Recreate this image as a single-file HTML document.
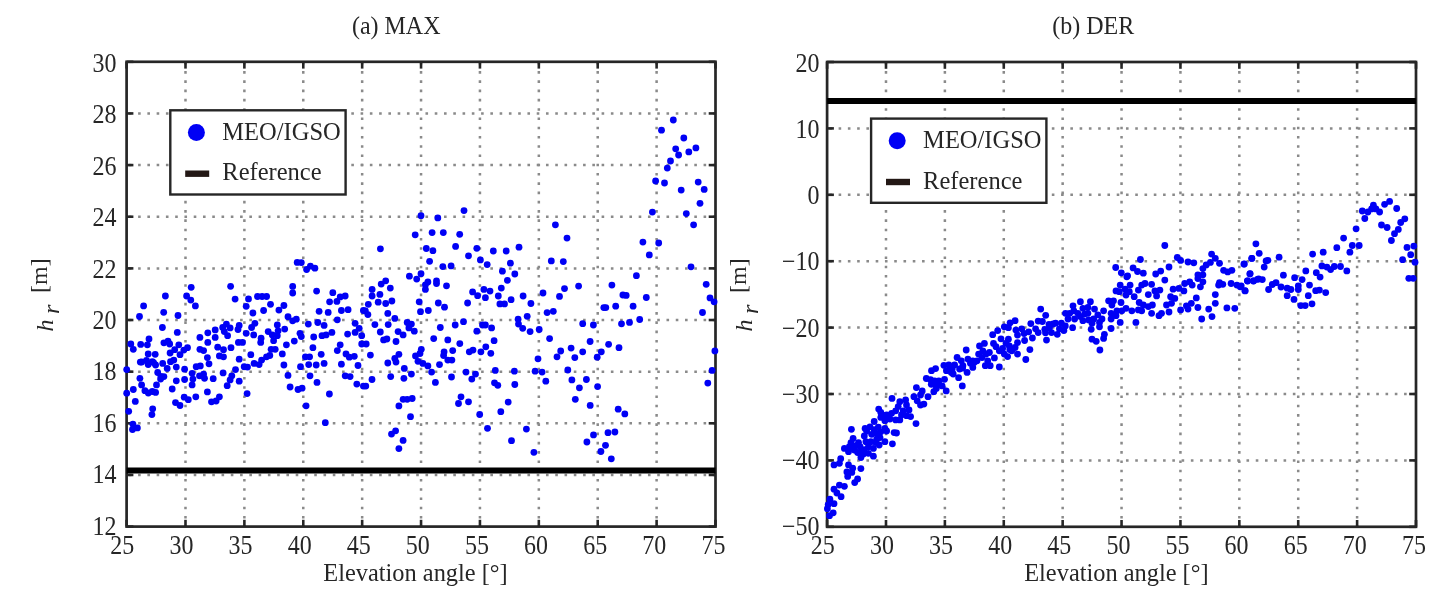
<!DOCTYPE html>
<html><head><meta charset="utf-8"><style>
html,body{margin:0;padding:0;background:#fff;width:1450px;height:605px;overflow:hidden}
svg{display:block;filter:blur(0.4px)}
text{font-family:"Liberation Serif",serif;font-size:24px;fill:#262626}
</style></head><body>
<svg width="1450" height="605" viewBox="0 0 1450 605">
<rect width="1450" height="605" fill="#fff"/>
<line x1="185.49" y1="61.80" x2="185.49" y2="526.60" stroke="#8a8a8a" stroke-width="2.5" stroke-dasharray="2.6 6.67" stroke-dashoffset="-9.25"/>
<line x1="244.38" y1="61.80" x2="244.38" y2="526.60" stroke="#8a8a8a" stroke-width="2.5" stroke-dasharray="2.6 6.67" stroke-dashoffset="-9.25"/>
<line x1="303.27" y1="61.80" x2="303.27" y2="526.60" stroke="#8a8a8a" stroke-width="2.5" stroke-dasharray="2.6 6.67" stroke-dashoffset="-9.25"/>
<line x1="362.16" y1="61.80" x2="362.16" y2="526.60" stroke="#8a8a8a" stroke-width="2.5" stroke-dasharray="2.6 6.67" stroke-dashoffset="-9.25"/>
<line x1="421.05" y1="61.80" x2="421.05" y2="526.60" stroke="#8a8a8a" stroke-width="2.5" stroke-dasharray="2.6 6.67" stroke-dashoffset="-9.25"/>
<line x1="479.94" y1="61.80" x2="479.94" y2="526.60" stroke="#8a8a8a" stroke-width="2.5" stroke-dasharray="2.6 6.67" stroke-dashoffset="-9.25"/>
<line x1="538.83" y1="61.80" x2="538.83" y2="526.60" stroke="#8a8a8a" stroke-width="2.5" stroke-dasharray="2.6 6.67" stroke-dashoffset="-9.25"/>
<line x1="597.72" y1="61.80" x2="597.72" y2="526.60" stroke="#8a8a8a" stroke-width="2.5" stroke-dasharray="2.6 6.67" stroke-dashoffset="-9.25"/>
<line x1="656.61" y1="61.80" x2="656.61" y2="526.60" stroke="#8a8a8a" stroke-width="2.5" stroke-dasharray="2.6 6.67" stroke-dashoffset="-9.25"/>
<line x1="126.60" y1="474.96" x2="715.50" y2="474.96" stroke="#8a8a8a" stroke-width="2.5" stroke-dasharray="2.6 6.67" stroke-dashoffset="-2.23"/>
<line x1="126.60" y1="423.31" x2="715.50" y2="423.31" stroke="#8a8a8a" stroke-width="2.5" stroke-dasharray="2.6 6.67" stroke-dashoffset="-2.23"/>
<line x1="126.60" y1="371.67" x2="715.50" y2="371.67" stroke="#8a8a8a" stroke-width="2.5" stroke-dasharray="2.6 6.67" stroke-dashoffset="-2.23"/>
<line x1="126.60" y1="320.02" x2="715.50" y2="320.02" stroke="#8a8a8a" stroke-width="2.5" stroke-dasharray="2.6 6.67" stroke-dashoffset="-2.23"/>
<line x1="126.60" y1="268.38" x2="715.50" y2="268.38" stroke="#8a8a8a" stroke-width="2.5" stroke-dasharray="2.6 6.67" stroke-dashoffset="-2.23"/>
<line x1="126.60" y1="216.73" x2="715.50" y2="216.73" stroke="#8a8a8a" stroke-width="2.5" stroke-dasharray="2.6 6.67" stroke-dashoffset="-2.23"/>
<line x1="126.60" y1="165.09" x2="715.50" y2="165.09" stroke="#8a8a8a" stroke-width="2.5" stroke-dasharray="2.6 6.67" stroke-dashoffset="-2.23"/>
<line x1="126.60" y1="113.44" x2="715.50" y2="113.44" stroke="#8a8a8a" stroke-width="2.5" stroke-dasharray="2.6 6.67" stroke-dashoffset="-2.23"/>
<line x1="126.60" y1="526.60" x2="126.60" y2="519.80" stroke="#262626" stroke-width="2.6"/>
<line x1="126.60" y1="61.80" x2="126.60" y2="68.60" stroke="#262626" stroke-width="2.6"/>
<text transform="translate(122.30,554.30) scale(1,1.1)" text-anchor="middle">25</text>
<line x1="185.49" y1="526.60" x2="185.49" y2="519.80" stroke="#262626" stroke-width="2.6"/>
<line x1="185.49" y1="61.80" x2="185.49" y2="68.60" stroke="#262626" stroke-width="2.6"/>
<text transform="translate(181.42,554.30) scale(1,1.1)" text-anchor="middle">30</text>
<line x1="244.38" y1="526.60" x2="244.38" y2="519.80" stroke="#262626" stroke-width="2.6"/>
<line x1="244.38" y1="61.80" x2="244.38" y2="68.60" stroke="#262626" stroke-width="2.6"/>
<text transform="translate(240.53,554.30) scale(1,1.1)" text-anchor="middle">35</text>
<line x1="303.27" y1="526.60" x2="303.27" y2="519.80" stroke="#262626" stroke-width="2.6"/>
<line x1="303.27" y1="61.80" x2="303.27" y2="68.60" stroke="#262626" stroke-width="2.6"/>
<text transform="translate(299.64,554.30) scale(1,1.1)" text-anchor="middle">40</text>
<line x1="362.16" y1="526.60" x2="362.16" y2="519.80" stroke="#262626" stroke-width="2.6"/>
<line x1="362.16" y1="61.80" x2="362.16" y2="68.60" stroke="#262626" stroke-width="2.6"/>
<text transform="translate(358.76,554.30) scale(1,1.1)" text-anchor="middle">45</text>
<line x1="421.05" y1="526.60" x2="421.05" y2="519.80" stroke="#262626" stroke-width="2.6"/>
<line x1="421.05" y1="61.80" x2="421.05" y2="68.60" stroke="#262626" stroke-width="2.6"/>
<text transform="translate(417.87,554.30) scale(1,1.1)" text-anchor="middle">50</text>
<line x1="479.94" y1="526.60" x2="479.94" y2="519.80" stroke="#262626" stroke-width="2.6"/>
<line x1="479.94" y1="61.80" x2="479.94" y2="68.60" stroke="#262626" stroke-width="2.6"/>
<text transform="translate(476.99,554.30) scale(1,1.1)" text-anchor="middle">55</text>
<line x1="538.83" y1="526.60" x2="538.83" y2="519.80" stroke="#262626" stroke-width="2.6"/>
<line x1="538.83" y1="61.80" x2="538.83" y2="68.60" stroke="#262626" stroke-width="2.6"/>
<text transform="translate(536.10,554.30) scale(1,1.1)" text-anchor="middle">60</text>
<line x1="597.72" y1="526.60" x2="597.72" y2="519.80" stroke="#262626" stroke-width="2.6"/>
<line x1="597.72" y1="61.80" x2="597.72" y2="68.60" stroke="#262626" stroke-width="2.6"/>
<text transform="translate(595.22,554.30) scale(1,1.1)" text-anchor="middle">65</text>
<line x1="656.61" y1="526.60" x2="656.61" y2="519.80" stroke="#262626" stroke-width="2.6"/>
<line x1="656.61" y1="61.80" x2="656.61" y2="68.60" stroke="#262626" stroke-width="2.6"/>
<text transform="translate(654.33,554.30) scale(1,1.1)" text-anchor="middle">70</text>
<line x1="715.50" y1="526.60" x2="715.50" y2="519.80" stroke="#262626" stroke-width="2.6"/>
<line x1="715.50" y1="61.80" x2="715.50" y2="68.60" stroke="#262626" stroke-width="2.6"/>
<text transform="translate(713.45,554.30) scale(1,1.1)" text-anchor="middle">75</text>
<line x1="126.60" y1="526.60" x2="133.40" y2="526.60" stroke="#262626" stroke-width="2.6"/>
<line x1="715.50" y1="526.60" x2="708.70" y2="526.60" stroke="#262626" stroke-width="2.6"/>
<text transform="translate(116.50,534.70) scale(1,1.1)" text-anchor="end">12</text>
<line x1="126.60" y1="474.96" x2="133.40" y2="474.96" stroke="#262626" stroke-width="2.6"/>
<line x1="715.50" y1="474.96" x2="708.70" y2="474.96" stroke="#262626" stroke-width="2.6"/>
<text transform="translate(116.50,483.28) scale(1,1.1)" text-anchor="end">14</text>
<line x1="126.60" y1="423.31" x2="133.40" y2="423.31" stroke="#262626" stroke-width="2.6"/>
<line x1="715.50" y1="423.31" x2="708.70" y2="423.31" stroke="#262626" stroke-width="2.6"/>
<text transform="translate(116.50,431.86) scale(1,1.1)" text-anchor="end">16</text>
<line x1="126.60" y1="371.67" x2="133.40" y2="371.67" stroke="#262626" stroke-width="2.6"/>
<line x1="715.50" y1="371.67" x2="708.70" y2="371.67" stroke="#262626" stroke-width="2.6"/>
<text transform="translate(116.50,380.43) scale(1,1.1)" text-anchor="end">18</text>
<line x1="126.60" y1="320.02" x2="133.40" y2="320.02" stroke="#262626" stroke-width="2.6"/>
<line x1="715.50" y1="320.02" x2="708.70" y2="320.02" stroke="#262626" stroke-width="2.6"/>
<text transform="translate(116.50,329.01) scale(1,1.1)" text-anchor="end">20</text>
<line x1="126.60" y1="268.38" x2="133.40" y2="268.38" stroke="#262626" stroke-width="2.6"/>
<line x1="715.50" y1="268.38" x2="708.70" y2="268.38" stroke="#262626" stroke-width="2.6"/>
<text transform="translate(116.50,277.59) scale(1,1.1)" text-anchor="end">22</text>
<line x1="126.60" y1="216.73" x2="133.40" y2="216.73" stroke="#262626" stroke-width="2.6"/>
<line x1="715.50" y1="216.73" x2="708.70" y2="216.73" stroke="#262626" stroke-width="2.6"/>
<text transform="translate(116.50,226.17) scale(1,1.1)" text-anchor="end">24</text>
<line x1="126.60" y1="165.09" x2="133.40" y2="165.09" stroke="#262626" stroke-width="2.6"/>
<line x1="715.50" y1="165.09" x2="708.70" y2="165.09" stroke="#262626" stroke-width="2.6"/>
<text transform="translate(116.50,174.74) scale(1,1.1)" text-anchor="end">26</text>
<line x1="126.60" y1="113.44" x2="133.40" y2="113.44" stroke="#262626" stroke-width="2.6"/>
<line x1="715.50" y1="113.44" x2="708.70" y2="113.44" stroke="#262626" stroke-width="2.6"/>
<text transform="translate(116.50,123.32) scale(1,1.1)" text-anchor="end">28</text>
<line x1="126.60" y1="61.80" x2="133.40" y2="61.80" stroke="#262626" stroke-width="2.6"/>
<line x1="715.50" y1="61.80" x2="708.70" y2="61.80" stroke="#262626" stroke-width="2.6"/>
<text transform="translate(116.50,71.90) scale(1,1.1)" text-anchor="end">30</text>
<rect x="126.60" y="61.80" width="588.90" height="464.80" fill="none" stroke="#262626" stroke-width="2.7"/>
<g fill="#0000f5">
<circle cx="673.3" cy="120.0" r="3.4"/>
<circle cx="661.5" cy="130.2" r="3.4"/>
<circle cx="683.8" cy="138.0" r="3.4"/>
<circle cx="675.7" cy="148.8" r="3.4"/>
<circle cx="678.6" cy="155.0" r="3.4"/>
<circle cx="688.8" cy="151.9" r="3.4"/>
<circle cx="695.9" cy="147.9" r="3.4"/>
<circle cx="670.5" cy="161.0" r="3.4"/>
<circle cx="667.3" cy="168.1" r="3.4"/>
<circle cx="655.6" cy="181.0" r="3.4"/>
<circle cx="664.5" cy="183.0" r="3.4"/>
<circle cx="698.2" cy="182.1" r="3.4"/>
<circle cx="681.2" cy="190.1" r="3.4"/>
<circle cx="704.2" cy="189.4" r="3.4"/>
<circle cx="297.2" cy="262.4" r="3.4"/>
<circle cx="301.3" cy="262.6" r="3.4"/>
<circle cx="306.6" cy="269.5" r="3.4"/>
<circle cx="310.4" cy="266.2" r="3.4"/>
<circle cx="314.9" cy="268.2" r="3.4"/>
<circle cx="191.2" cy="287.3" r="3.4"/>
<circle cx="230.6" cy="286.3" r="3.4"/>
<circle cx="292.7" cy="286.4" r="3.4"/>
<circle cx="292.7" cy="293.0" r="3.4"/>
<circle cx="316.6" cy="291.1" r="3.4"/>
<circle cx="165.4" cy="296.0" r="3.4"/>
<circle cx="186.6" cy="296.0" r="3.4"/>
<circle cx="332.8" cy="292.7" r="3.4"/>
<circle cx="340.2" cy="296.9" r="3.4"/>
<circle cx="345.2" cy="296.0" r="3.4"/>
<circle cx="257.5" cy="296.5" r="3.4"/>
<circle cx="262.1" cy="296.5" r="3.4"/>
<circle cx="266.6" cy="296.5" r="3.4"/>
<circle cx="464.0" cy="210.6" r="3.4"/>
<circle cx="421.0" cy="215.7" r="3.4"/>
<circle cx="437.8" cy="217.9" r="3.4"/>
<circle cx="555.4" cy="224.8" r="3.4"/>
<circle cx="415.2" cy="234.8" r="3.4"/>
<circle cx="432.1" cy="232.6" r="3.4"/>
<circle cx="443.3" cy="232.6" r="3.4"/>
<circle cx="459.7" cy="234.3" r="3.4"/>
<circle cx="567.0" cy="238.1" r="3.4"/>
<circle cx="380.4" cy="248.8" r="3.4"/>
<circle cx="426.3" cy="248.5" r="3.4"/>
<circle cx="432.9" cy="250.7" r="3.4"/>
<circle cx="455.6" cy="246.4" r="3.4"/>
<circle cx="476.8" cy="248.3" r="3.4"/>
<circle cx="493.3" cy="251.0" r="3.4"/>
<circle cx="506.2" cy="251.0" r="3.4"/>
<circle cx="519.0" cy="247.2" r="3.4"/>
<circle cx="468.5" cy="255.8" r="3.4"/>
<circle cx="429.6" cy="261.3" r="3.4"/>
<circle cx="480.4" cy="259.9" r="3.4"/>
<circle cx="487.2" cy="264.6" r="3.4"/>
<circle cx="510.4" cy="263.2" r="3.4"/>
<circle cx="551.3" cy="260.9" r="3.4"/>
<circle cx="563.3" cy="261.6" r="3.4"/>
<circle cx="442.8" cy="266.6" r="3.4"/>
<circle cx="451.1" cy="265.9" r="3.4"/>
<circle cx="502.4" cy="271.2" r="3.4"/>
<circle cx="514.8" cy="274.0" r="3.4"/>
<circle cx="409.4" cy="276.2" r="3.4"/>
<circle cx="421.0" cy="273.7" r="3.4"/>
<circle cx="416.7" cy="279.1" r="3.4"/>
<circle cx="385.7" cy="280.8" r="3.4"/>
<circle cx="381.2" cy="284.1" r="3.4"/>
<circle cx="390.3" cy="288.1" r="3.4"/>
<circle cx="372.1" cy="289.4" r="3.4"/>
<circle cx="427.9" cy="282.0" r="3.4"/>
<circle cx="436.5" cy="280.8" r="3.4"/>
<circle cx="436.5" cy="283.6" r="3.4"/>
<circle cx="425.4" cy="284.8" r="3.4"/>
<circle cx="425.4" cy="289.4" r="3.4"/>
<circle cx="446.5" cy="285.8" r="3.4"/>
<circle cx="507.4" cy="280.3" r="3.4"/>
<circle cx="501.3" cy="288.1" r="3.4"/>
<circle cx="483.9" cy="289.4" r="3.4"/>
<circle cx="490.0" cy="291.1" r="3.4"/>
<circle cx="472.6" cy="291.9" r="3.4"/>
<circle cx="477.6" cy="295.7" r="3.4"/>
<circle cx="564.5" cy="288.6" r="3.4"/>
<circle cx="578.6" cy="286.1" r="3.4"/>
<circle cx="543.0" cy="293.0" r="3.4"/>
<circle cx="559.5" cy="296.4" r="3.4"/>
<circle cx="498.3" cy="296.0" r="3.4"/>
<circle cx="523.1" cy="296.0" r="3.4"/>
<circle cx="379.9" cy="294.4" r="3.4"/>
<circle cx="372.1" cy="296.0" r="3.4"/>
<circle cx="485.4" cy="297.7" r="3.4"/>
<circle cx="700.0" cy="203.3" r="3.4"/>
<circle cx="652.4" cy="212.1" r="3.4"/>
<circle cx="686.3" cy="213.6" r="3.4"/>
<circle cx="693.6" cy="224.8" r="3.4"/>
<circle cx="642.9" cy="242.1" r="3.4"/>
<circle cx="658.7" cy="243.0" r="3.4"/>
<circle cx="649.3" cy="254.9" r="3.4"/>
<circle cx="691.0" cy="266.8" r="3.4"/>
<circle cx="636.4" cy="275.7" r="3.4"/>
<circle cx="611.9" cy="285.1" r="3.4"/>
<circle cx="706.2" cy="284.3" r="3.4"/>
<circle cx="622.9" cy="295.0" r="3.4"/>
<circle cx="626.2" cy="295.4" r="3.4"/>
<circle cx="646.3" cy="297.5" r="3.4"/>
<circle cx="710.0" cy="297.9" r="3.4"/>
<circle cx="190.8" cy="300.1" r="3.4"/>
<circle cx="195.4" cy="305.9" r="3.4"/>
<circle cx="235.1" cy="299.1" r="3.4"/>
<circle cx="143.6" cy="305.9" r="3.4"/>
<circle cx="139.5" cy="316.5" r="3.4"/>
<circle cx="163.7" cy="312.3" r="3.4"/>
<circle cx="178.0" cy="315.5" r="3.4"/>
<circle cx="162.4" cy="327.5" r="3.4"/>
<circle cx="177.3" cy="332.4" r="3.4"/>
<circle cx="149.0" cy="338.9" r="3.4"/>
<circle cx="199.9" cy="337.4" r="3.4"/>
<circle cx="207.8" cy="332.8" r="3.4"/>
<circle cx="215.2" cy="329.9" r="3.4"/>
<circle cx="215.2" cy="337.4" r="3.4"/>
<circle cx="222.7" cy="327.5" r="3.4"/>
<circle cx="226.4" cy="324.1" r="3.4"/>
<circle cx="230.1" cy="327.9" r="3.4"/>
<circle cx="224.3" cy="331.6" r="3.4"/>
<circle cx="227.6" cy="335.7" r="3.4"/>
<circle cx="239.2" cy="325.4" r="3.4"/>
<circle cx="238.0" cy="329.5" r="3.4"/>
<circle cx="207.8" cy="342.4" r="3.4"/>
<circle cx="130.8" cy="344.0" r="3.4"/>
<circle cx="140.7" cy="344.4" r="3.4"/>
<circle cx="147.4" cy="344.8" r="3.4"/>
<circle cx="163.9" cy="342.8" r="3.4"/>
<circle cx="168.0" cy="341.1" r="3.4"/>
<circle cx="169.7" cy="344.0" r="3.4"/>
<circle cx="178.8" cy="344.8" r="3.4"/>
<circle cx="238.4" cy="342.4" r="3.4"/>
<circle cx="242.5" cy="342.4" r="3.4"/>
<circle cx="248.5" cy="298.9" r="3.4"/>
<circle cx="246.2" cy="306.3" r="3.4"/>
<circle cx="329.6" cy="301.8" r="3.4"/>
<circle cx="336.9" cy="301.4" r="3.4"/>
<circle cx="270.5" cy="304.3" r="3.4"/>
<circle cx="263.6" cy="310.5" r="3.4"/>
<circle cx="252.9" cy="313.0" r="3.4"/>
<circle cx="278.9" cy="310.1" r="3.4"/>
<circle cx="283.9" cy="305.5" r="3.4"/>
<circle cx="288.0" cy="316.7" r="3.4"/>
<circle cx="292.6" cy="320.8" r="3.4"/>
<circle cx="296.3" cy="319.2" r="3.4"/>
<circle cx="308.3" cy="324.1" r="3.4"/>
<circle cx="319.1" cy="311.3" r="3.4"/>
<circle cx="328.2" cy="312.4" r="3.4"/>
<circle cx="341.4" cy="310.5" r="3.4"/>
<circle cx="348.1" cy="309.7" r="3.4"/>
<circle cx="337.3" cy="319.8" r="3.4"/>
<circle cx="317.8" cy="322.5" r="3.4"/>
<circle cx="324.1" cy="325.4" r="3.4"/>
<circle cx="363.4" cy="310.5" r="3.4"/>
<circle cx="254.9" cy="323.3" r="3.4"/>
<circle cx="251.6" cy="327.5" r="3.4"/>
<circle cx="246.2" cy="333.3" r="3.4"/>
<circle cx="253.7" cy="334.9" r="3.4"/>
<circle cx="261.1" cy="338.2" r="3.4"/>
<circle cx="260.7" cy="342.4" r="3.4"/>
<circle cx="268.2" cy="331.6" r="3.4"/>
<circle cx="272.3" cy="334.9" r="3.4"/>
<circle cx="277.3" cy="325.0" r="3.4"/>
<circle cx="278.1" cy="330.8" r="3.4"/>
<circle cx="284.7" cy="329.1" r="3.4"/>
<circle cx="273.6" cy="340.7" r="3.4"/>
<circle cx="277.3" cy="335.7" r="3.4"/>
<circle cx="300.0" cy="333.3" r="3.4"/>
<circle cx="301.3" cy="336.6" r="3.4"/>
<circle cx="294.3" cy="341.1" r="3.4"/>
<circle cx="313.7" cy="337.0" r="3.4"/>
<circle cx="322.0" cy="335.7" r="3.4"/>
<circle cx="326.1" cy="334.9" r="3.4"/>
<circle cx="331.9" cy="332.4" r="3.4"/>
<circle cx="347.6" cy="334.1" r="3.4"/>
<circle cx="355.1" cy="323.3" r="3.4"/>
<circle cx="355.1" cy="332.4" r="3.4"/>
<circle cx="359.2" cy="328.3" r="3.4"/>
<circle cx="361.7" cy="335.7" r="3.4"/>
<circle cx="286.4" cy="344.8" r="3.4"/>
<circle cx="340.2" cy="344.8" r="3.4"/>
<circle cx="361.7" cy="344.0" r="3.4"/>
<circle cx="133.3" cy="349.3" r="3.4"/>
<circle cx="170.1" cy="353.0" r="3.4"/>
<circle cx="180.0" cy="354.7" r="3.4"/>
<circle cx="174.7" cy="349.7" r="3.4"/>
<circle cx="183.8" cy="350.1" r="3.4"/>
<circle cx="187.5" cy="347.7" r="3.4"/>
<circle cx="199.9" cy="349.3" r="3.4"/>
<circle cx="203.6" cy="350.6" r="3.4"/>
<circle cx="217.7" cy="347.2" r="3.4"/>
<circle cx="223.5" cy="349.7" r="3.4"/>
<circle cx="219.4" cy="355.9" r="3.4"/>
<circle cx="223.5" cy="356.8" r="3.4"/>
<circle cx="231.0" cy="347.7" r="3.4"/>
<circle cx="239.2" cy="359.2" r="3.4"/>
<circle cx="148.2" cy="353.9" r="3.4"/>
<circle cx="155.2" cy="354.3" r="3.4"/>
<circle cx="140.3" cy="362.1" r="3.4"/>
<circle cx="146.5" cy="360.5" r="3.4"/>
<circle cx="152.3" cy="361.7" r="3.4"/>
<circle cx="155.6" cy="365.0" r="3.4"/>
<circle cx="148.2" cy="364.6" r="3.4"/>
<circle cx="162.7" cy="363.4" r="3.4"/>
<circle cx="167.2" cy="368.4" r="3.4"/>
<circle cx="170.5" cy="361.7" r="3.4"/>
<circle cx="173.8" cy="360.1" r="3.4"/>
<circle cx="176.3" cy="367.1" r="3.4"/>
<circle cx="184.6" cy="369.2" r="3.4"/>
<circle cx="196.2" cy="366.7" r="3.4"/>
<circle cx="200.3" cy="365.9" r="3.4"/>
<circle cx="207.4" cy="357.6" r="3.4"/>
<circle cx="209.0" cy="363.8" r="3.4"/>
<circle cx="192.1" cy="373.3" r="3.4"/>
<circle cx="192.9" cy="379.1" r="3.4"/>
<circle cx="199.5" cy="375.8" r="3.4"/>
<circle cx="203.6" cy="374.1" r="3.4"/>
<circle cx="204.5" cy="378.3" r="3.4"/>
<circle cx="192.1" cy="384.9" r="3.4"/>
<circle cx="184.6" cy="379.5" r="3.4"/>
<circle cx="176.3" cy="380.8" r="3.4"/>
<circle cx="172.2" cy="389.0" r="3.4"/>
<circle cx="213.2" cy="378.7" r="3.4"/>
<circle cx="223.1" cy="372.9" r="3.4"/>
<circle cx="235.5" cy="369.6" r="3.4"/>
<circle cx="231.8" cy="375.8" r="3.4"/>
<circle cx="230.1" cy="379.9" r="3.4"/>
<circle cx="239.2" cy="381.2" r="3.4"/>
<circle cx="227.2" cy="385.7" r="3.4"/>
<circle cx="126.7" cy="369.6" r="3.4"/>
<circle cx="157.7" cy="372.5" r="3.4"/>
<circle cx="163.9" cy="376.6" r="3.4"/>
<circle cx="160.6" cy="379.1" r="3.4"/>
<circle cx="139.9" cy="378.3" r="3.4"/>
<circle cx="141.6" cy="384.9" r="3.4"/>
<circle cx="156.5" cy="384.9" r="3.4"/>
<circle cx="144.9" cy="390.7" r="3.4"/>
<circle cx="152.3" cy="391.5" r="3.4"/>
<circle cx="133.3" cy="389.5" r="3.4"/>
<circle cx="126.7" cy="393.2" r="3.4"/>
<circle cx="207.4" cy="391.9" r="3.4"/>
<circle cx="244.2" cy="366.7" r="3.4"/>
<circle cx="271.1" cy="349.3" r="3.4"/>
<circle cx="275.2" cy="349.3" r="3.4"/>
<circle cx="312.9" cy="347.7" r="3.4"/>
<circle cx="337.3" cy="350.6" r="3.4"/>
<circle cx="250.8" cy="354.7" r="3.4"/>
<circle cx="282.3" cy="353.9" r="3.4"/>
<circle cx="305.4" cy="356.8" r="3.4"/>
<circle cx="309.6" cy="356.8" r="3.4"/>
<circle cx="321.2" cy="354.3" r="3.4"/>
<circle cx="346.0" cy="353.9" r="3.4"/>
<circle cx="349.3" cy="357.2" r="3.4"/>
<circle cx="354.3" cy="356.3" r="3.4"/>
<circle cx="247.5" cy="367.1" r="3.4"/>
<circle cx="254.1" cy="363.4" r="3.4"/>
<circle cx="259.1" cy="364.6" r="3.4"/>
<circle cx="261.6" cy="360.1" r="3.4"/>
<circle cx="266.5" cy="356.8" r="3.4"/>
<circle cx="269.8" cy="355.5" r="3.4"/>
<circle cx="283.9" cy="365.0" r="3.4"/>
<circle cx="300.5" cy="366.7" r="3.4"/>
<circle cx="308.7" cy="364.6" r="3.4"/>
<circle cx="316.2" cy="365.0" r="3.4"/>
<circle cx="324.1" cy="363.4" r="3.4"/>
<circle cx="341.4" cy="364.2" r="3.4"/>
<circle cx="358.0" cy="365.5" r="3.4"/>
<circle cx="288.0" cy="375.4" r="3.4"/>
<circle cx="310.0" cy="375.8" r="3.4"/>
<circle cx="317.0" cy="382.4" r="3.4"/>
<circle cx="345.2" cy="375.8" r="3.4"/>
<circle cx="350.1" cy="376.6" r="3.4"/>
<circle cx="356.8" cy="384.1" r="3.4"/>
<circle cx="363.4" cy="386.1" r="3.4"/>
<circle cx="290.1" cy="387.0" r="3.4"/>
<circle cx="298.0" cy="389.5" r="3.4"/>
<circle cx="302.1" cy="388.2" r="3.4"/>
<circle cx="329.4" cy="394.0" r="3.4"/>
<circle cx="247.1" cy="393.6" r="3.4"/>
<circle cx="135.3" cy="401.4" r="3.4"/>
<circle cx="128.7" cy="411.3" r="3.4"/>
<circle cx="152.7" cy="408.8" r="3.4"/>
<circle cx="151.9" cy="414.6" r="3.4"/>
<circle cx="175.5" cy="402.6" r="3.4"/>
<circle cx="180.0" cy="405.5" r="3.4"/>
<circle cx="184.2" cy="397.2" r="3.4"/>
<circle cx="188.3" cy="399.7" r="3.4"/>
<circle cx="195.8" cy="396.8" r="3.4"/>
<circle cx="211.5" cy="401.8" r="3.4"/>
<circle cx="216.1" cy="401.0" r="3.4"/>
<circle cx="219.4" cy="396.8" r="3.4"/>
<circle cx="132.9" cy="424.1" r="3.4"/>
<circle cx="137.4" cy="427.9" r="3.4"/>
<circle cx="132.5" cy="429.5" r="3.4"/>
<circle cx="306.1" cy="405.8" r="3.4"/>
<circle cx="325.3" cy="422.7" r="3.4"/>
<circle cx="368.3" cy="304.3" r="3.4"/>
<circle cx="378.2" cy="302.2" r="3.4"/>
<circle cx="385.7" cy="303.5" r="3.4"/>
<circle cx="391.9" cy="301.0" r="3.4"/>
<circle cx="367.9" cy="314.6" r="3.4"/>
<circle cx="365.4" cy="310.9" r="3.4"/>
<circle cx="387.8" cy="313.4" r="3.4"/>
<circle cx="394.8" cy="318.4" r="3.4"/>
<circle cx="374.9" cy="324.6" r="3.4"/>
<circle cx="388.2" cy="324.6" r="3.4"/>
<circle cx="380.3" cy="332.0" r="3.4"/>
<circle cx="383.6" cy="339.9" r="3.4"/>
<circle cx="386.9" cy="339.0" r="3.4"/>
<circle cx="396.0" cy="341.5" r="3.4"/>
<circle cx="398.1" cy="331.6" r="3.4"/>
<circle cx="403.1" cy="334.9" r="3.4"/>
<circle cx="407.2" cy="322.5" r="3.4"/>
<circle cx="411.4" cy="324.1" r="3.4"/>
<circle cx="408.9" cy="327.9" r="3.4"/>
<circle cx="414.3" cy="331.2" r="3.4"/>
<circle cx="419.2" cy="301.8" r="3.4"/>
<circle cx="420.5" cy="311.7" r="3.4"/>
<circle cx="428.3" cy="310.5" r="3.4"/>
<circle cx="438.3" cy="303.0" r="3.4"/>
<circle cx="444.5" cy="307.2" r="3.4"/>
<circle cx="440.3" cy="327.5" r="3.4"/>
<circle cx="433.7" cy="338.6" r="3.4"/>
<circle cx="447.8" cy="339.9" r="3.4"/>
<circle cx="455.2" cy="325.0" r="3.4"/>
<circle cx="463.5" cy="321.7" r="3.4"/>
<circle cx="467.6" cy="303.0" r="3.4"/>
<circle cx="476.8" cy="331.2" r="3.4"/>
<circle cx="459.8" cy="343.6" r="3.4"/>
<circle cx="482.5" cy="325.0" r="3.4"/>
<circle cx="366.2" cy="344.0" r="3.4"/>
<circle cx="499.9" cy="303.9" r="3.4"/>
<circle cx="504.5" cy="303.9" r="3.4"/>
<circle cx="511.1" cy="299.7" r="3.4"/>
<circle cx="530.9" cy="303.5" r="3.4"/>
<circle cx="527.2" cy="316.3" r="3.4"/>
<circle cx="547.1" cy="312.6" r="3.4"/>
<circle cx="553.3" cy="311.3" r="3.4"/>
<circle cx="518.1" cy="319.2" r="3.4"/>
<circle cx="518.5" cy="324.1" r="3.4"/>
<circle cx="522.7" cy="328.3" r="3.4"/>
<circle cx="530.1" cy="331.6" r="3.4"/>
<circle cx="539.2" cy="329.5" r="3.4"/>
<circle cx="491.6" cy="327.9" r="3.4"/>
<circle cx="485.4" cy="325.0" r="3.4"/>
<circle cx="494.1" cy="340.7" r="3.4"/>
<circle cx="549.6" cy="338.6" r="3.4"/>
<circle cx="582.7" cy="323.7" r="3.4"/>
<circle cx="593.4" cy="325.0" r="3.4"/>
<circle cx="590.1" cy="341.5" r="3.4"/>
<circle cx="603.8" cy="307.6" r="3.4"/>
<circle cx="370.4" cy="355.1" r="3.4"/>
<circle cx="387.8" cy="363.0" r="3.4"/>
<circle cx="396.0" cy="362.1" r="3.4"/>
<circle cx="394.8" cy="358.4" r="3.4"/>
<circle cx="398.9" cy="354.3" r="3.4"/>
<circle cx="404.3" cy="368.4" r="3.4"/>
<circle cx="411.4" cy="374.1" r="3.4"/>
<circle cx="390.7" cy="376.6" r="3.4"/>
<circle cx="403.9" cy="378.3" r="3.4"/>
<circle cx="372.0" cy="379.5" r="3.4"/>
<circle cx="365.8" cy="386.1" r="3.4"/>
<circle cx="421.3" cy="349.3" r="3.4"/>
<circle cx="420.0" cy="353.5" r="3.4"/>
<circle cx="415.5" cy="355.9" r="3.4"/>
<circle cx="418.0" cy="361.3" r="3.4"/>
<circle cx="422.9" cy="363.4" r="3.4"/>
<circle cx="427.9" cy="365.9" r="3.4"/>
<circle cx="431.6" cy="372.1" r="3.4"/>
<circle cx="435.4" cy="382.4" r="3.4"/>
<circle cx="439.5" cy="364.6" r="3.4"/>
<circle cx="444.1" cy="351.8" r="3.4"/>
<circle cx="443.6" cy="355.5" r="3.4"/>
<circle cx="447.8" cy="360.1" r="3.4"/>
<circle cx="451.9" cy="360.1" r="3.4"/>
<circle cx="452.7" cy="350.6" r="3.4"/>
<circle cx="469.3" cy="351.8" r="3.4"/>
<circle cx="473.0" cy="350.1" r="3.4"/>
<circle cx="480.9" cy="351.8" r="3.4"/>
<circle cx="466.0" cy="372.1" r="3.4"/>
<circle cx="475.5" cy="374.1" r="3.4"/>
<circle cx="471.8" cy="379.1" r="3.4"/>
<circle cx="451.5" cy="377.0" r="3.4"/>
<circle cx="485.8" cy="346.8" r="3.4"/>
<circle cx="490.8" cy="353.3" r="3.4"/>
<circle cx="538.0" cy="358.8" r="3.4"/>
<circle cx="557.0" cy="356.8" r="3.4"/>
<circle cx="560.7" cy="351.0" r="3.4"/>
<circle cx="571.1" cy="348.1" r="3.4"/>
<circle cx="574.8" cy="357.6" r="3.4"/>
<circle cx="582.7" cy="351.8" r="3.4"/>
<circle cx="597.2" cy="357.2" r="3.4"/>
<circle cx="601.3" cy="351.8" r="3.4"/>
<circle cx="495.3" cy="370.4" r="3.4"/>
<circle cx="514.4" cy="371.2" r="3.4"/>
<circle cx="535.1" cy="371.2" r="3.4"/>
<circle cx="542.1" cy="372.1" r="3.4"/>
<circle cx="567.8" cy="370.0" r="3.4"/>
<circle cx="545.8" cy="381.2" r="3.4"/>
<circle cx="494.5" cy="382.8" r="3.4"/>
<circle cx="497.8" cy="385.3" r="3.4"/>
<circle cx="514.8" cy="384.5" r="3.4"/>
<circle cx="571.9" cy="379.9" r="3.4"/>
<circle cx="586.4" cy="379.5" r="3.4"/>
<circle cx="579.4" cy="387.8" r="3.4"/>
<circle cx="597.6" cy="386.6" r="3.4"/>
<circle cx="403.1" cy="399.3" r="3.4"/>
<circle cx="407.2" cy="399.3" r="3.4"/>
<circle cx="412.2" cy="398.5" r="3.4"/>
<circle cx="398.9" cy="405.9" r="3.4"/>
<circle cx="410.5" cy="416.7" r="3.4"/>
<circle cx="461.0" cy="396.8" r="3.4"/>
<circle cx="458.5" cy="403.5" r="3.4"/>
<circle cx="468.5" cy="401.8" r="3.4"/>
<circle cx="479.7" cy="414.5" r="3.4"/>
<circle cx="500.8" cy="411.7" r="3.4"/>
<circle cx="508.2" cy="402.1" r="3.4"/>
<circle cx="575.3" cy="399.3" r="3.4"/>
<circle cx="590.2" cy="405.4" r="3.4"/>
<circle cx="487.5" cy="428.3" r="3.4"/>
<circle cx="526.4" cy="429.1" r="3.4"/>
<circle cx="511.5" cy="440.7" r="3.4"/>
<circle cx="533.9" cy="452.3" r="3.4"/>
<circle cx="391.5" cy="434.1" r="3.4"/>
<circle cx="395.6" cy="430.8" r="3.4"/>
<circle cx="403.1" cy="440.4" r="3.4"/>
<circle cx="398.9" cy="448.6" r="3.4"/>
<circle cx="593.5" cy="434.9" r="3.4"/>
<circle cx="586.9" cy="442.0" r="3.4"/>
<circle cx="600.9" cy="451.5" r="3.4"/>
<circle cx="714.1" cy="301.8" r="3.4"/>
<circle cx="605.8" cy="307.6" r="3.4"/>
<circle cx="615.7" cy="306.2" r="3.4"/>
<circle cx="633.1" cy="306.2" r="3.4"/>
<circle cx="621.5" cy="323.8" r="3.4"/>
<circle cx="629.5" cy="322.4" r="3.4"/>
<circle cx="639.7" cy="319.5" r="3.4"/>
<circle cx="702.5" cy="312.5" r="3.4"/>
<circle cx="608.6" cy="344.3" r="3.4"/>
<circle cx="619.0" cy="347.7" r="3.4"/>
<circle cx="714.9" cy="350.9" r="3.4"/>
<circle cx="712.1" cy="370.4" r="3.4"/>
<circle cx="707.8" cy="383.1" r="3.4"/>
<circle cx="618.2" cy="409.2" r="3.4"/>
<circle cx="624.8" cy="413.9" r="3.4"/>
<circle cx="608.0" cy="432.7" r="3.4"/>
<circle cx="614.9" cy="432.0" r="3.4"/>
<circle cx="605.5" cy="445.3" r="3.4"/>
<circle cx="611.3" cy="458.8" r="3.4"/>
<circle cx="148.3" cy="393.0" r="3.4"/>
<circle cx="155.6" cy="392.4" r="3.4"/>
<circle cx="160.9" cy="376.5" r="3.4"/>
<circle cx="141.7" cy="362.0" r="3.4"/>
<circle cx="153.6" cy="362.6" r="3.4"/>
</g>
<line x1="126.60" y1="470.57" x2="715.50" y2="470.57" stroke="#000" stroke-width="6"/>
<rect x="170.3" y="110.3" width="175.3" height="84.2" fill="#fff" stroke="#262626" stroke-width="2.4"/>
<circle cx="196.40" cy="132.50" r="8.5" fill="#0000f5"/>
<line x1="185.20" y1="173.70" x2="209.20" y2="173.70" stroke="#231815" stroke-width="6.4"/>
<text transform="translate(222.30,140.10)" style="font-size:24.5px">MEO/IGSO</text>
<text transform="translate(222.30,180.30)" style="font-size:24.5px">Reference</text>
<text transform="translate(396.20,33.50) scale(1,1.05)" text-anchor="middle">(a) MAX</text>
<text transform="translate(415.50,581.20) scale(1,1.03)" text-anchor="middle" style="font-size:24.4px">Elevation angle [°]</text>
<text transform="translate(52.60,331.60) rotate(-90)" font-style="italic">h</text>
<text transform="translate(58.70,314.00) rotate(-90)" font-style="italic">r</text>
<text transform="translate(46.50,293.00) rotate(-90)">[m]</text>
<line x1="885.99" y1="62.00" x2="885.99" y2="526.80" stroke="#8a8a8a" stroke-width="2.5" stroke-dasharray="2.6 6.67" stroke-dashoffset="-9.05"/>
<line x1="944.88" y1="62.00" x2="944.88" y2="526.80" stroke="#8a8a8a" stroke-width="2.5" stroke-dasharray="2.6 6.67" stroke-dashoffset="-9.05"/>
<line x1="1003.77" y1="62.00" x2="1003.77" y2="526.80" stroke="#8a8a8a" stroke-width="2.5" stroke-dasharray="2.6 6.67" stroke-dashoffset="-9.05"/>
<line x1="1062.66" y1="62.00" x2="1062.66" y2="526.80" stroke="#8a8a8a" stroke-width="2.5" stroke-dasharray="2.6 6.67" stroke-dashoffset="-9.05"/>
<line x1="1121.55" y1="62.00" x2="1121.55" y2="526.80" stroke="#8a8a8a" stroke-width="2.5" stroke-dasharray="2.6 6.67" stroke-dashoffset="-9.05"/>
<line x1="1180.44" y1="62.00" x2="1180.44" y2="526.80" stroke="#8a8a8a" stroke-width="2.5" stroke-dasharray="2.6 6.67" stroke-dashoffset="-9.05"/>
<line x1="1239.33" y1="62.00" x2="1239.33" y2="526.80" stroke="#8a8a8a" stroke-width="2.5" stroke-dasharray="2.6 6.67" stroke-dashoffset="-9.05"/>
<line x1="1298.22" y1="62.00" x2="1298.22" y2="526.80" stroke="#8a8a8a" stroke-width="2.5" stroke-dasharray="2.6 6.67" stroke-dashoffset="-9.05"/>
<line x1="1357.11" y1="62.00" x2="1357.11" y2="526.80" stroke="#8a8a8a" stroke-width="2.5" stroke-dasharray="2.6 6.67" stroke-dashoffset="-9.05"/>
<line x1="827.10" y1="460.40" x2="1416.00" y2="460.40" stroke="#8a8a8a" stroke-width="2.5" stroke-dasharray="2.6 6.67" stroke-dashoffset="-2.23"/>
<line x1="827.10" y1="394.00" x2="1416.00" y2="394.00" stroke="#8a8a8a" stroke-width="2.5" stroke-dasharray="2.6 6.67" stroke-dashoffset="-2.23"/>
<line x1="827.10" y1="327.60" x2="1416.00" y2="327.60" stroke="#8a8a8a" stroke-width="2.5" stroke-dasharray="2.6 6.67" stroke-dashoffset="-2.23"/>
<line x1="827.10" y1="261.20" x2="1416.00" y2="261.20" stroke="#8a8a8a" stroke-width="2.5" stroke-dasharray="2.6 6.67" stroke-dashoffset="-2.23"/>
<line x1="827.10" y1="194.80" x2="1416.00" y2="194.80" stroke="#8a8a8a" stroke-width="2.5" stroke-dasharray="2.6 6.67" stroke-dashoffset="-2.23"/>
<line x1="827.10" y1="128.40" x2="1416.00" y2="128.40" stroke="#8a8a8a" stroke-width="2.5" stroke-dasharray="2.6 6.67" stroke-dashoffset="-2.23"/>
<line x1="827.10" y1="526.80" x2="827.10" y2="520.00" stroke="#262626" stroke-width="2.6"/>
<line x1="827.10" y1="62.00" x2="827.10" y2="68.80" stroke="#262626" stroke-width="2.6"/>
<text transform="translate(822.80,554.30) scale(1,1.1)" text-anchor="middle">25</text>
<line x1="885.99" y1="526.80" x2="885.99" y2="520.00" stroke="#262626" stroke-width="2.6"/>
<line x1="885.99" y1="62.00" x2="885.99" y2="68.80" stroke="#262626" stroke-width="2.6"/>
<text transform="translate(881.91,554.30) scale(1,1.1)" text-anchor="middle">30</text>
<line x1="944.88" y1="526.80" x2="944.88" y2="520.00" stroke="#262626" stroke-width="2.6"/>
<line x1="944.88" y1="62.00" x2="944.88" y2="68.80" stroke="#262626" stroke-width="2.6"/>
<text transform="translate(941.03,554.30) scale(1,1.1)" text-anchor="middle">35</text>
<line x1="1003.77" y1="526.80" x2="1003.77" y2="520.00" stroke="#262626" stroke-width="2.6"/>
<line x1="1003.77" y1="62.00" x2="1003.77" y2="68.80" stroke="#262626" stroke-width="2.6"/>
<text transform="translate(1000.14,554.30) scale(1,1.1)" text-anchor="middle">40</text>
<line x1="1062.66" y1="526.80" x2="1062.66" y2="520.00" stroke="#262626" stroke-width="2.6"/>
<line x1="1062.66" y1="62.00" x2="1062.66" y2="68.80" stroke="#262626" stroke-width="2.6"/>
<text transform="translate(1059.26,554.30) scale(1,1.1)" text-anchor="middle">45</text>
<line x1="1121.55" y1="526.80" x2="1121.55" y2="520.00" stroke="#262626" stroke-width="2.6"/>
<line x1="1121.55" y1="62.00" x2="1121.55" y2="68.80" stroke="#262626" stroke-width="2.6"/>
<text transform="translate(1118.38,554.30) scale(1,1.1)" text-anchor="middle">50</text>
<line x1="1180.44" y1="526.80" x2="1180.44" y2="520.00" stroke="#262626" stroke-width="2.6"/>
<line x1="1180.44" y1="62.00" x2="1180.44" y2="68.80" stroke="#262626" stroke-width="2.6"/>
<text transform="translate(1177.49,554.30) scale(1,1.1)" text-anchor="middle">55</text>
<line x1="1239.33" y1="526.80" x2="1239.33" y2="520.00" stroke="#262626" stroke-width="2.6"/>
<line x1="1239.33" y1="62.00" x2="1239.33" y2="68.80" stroke="#262626" stroke-width="2.6"/>
<text transform="translate(1236.61,554.30) scale(1,1.1)" text-anchor="middle">60</text>
<line x1="1298.22" y1="526.80" x2="1298.22" y2="520.00" stroke="#262626" stroke-width="2.6"/>
<line x1="1298.22" y1="62.00" x2="1298.22" y2="68.80" stroke="#262626" stroke-width="2.6"/>
<text transform="translate(1295.72,554.30) scale(1,1.1)" text-anchor="middle">65</text>
<line x1="1357.11" y1="526.80" x2="1357.11" y2="520.00" stroke="#262626" stroke-width="2.6"/>
<line x1="1357.11" y1="62.00" x2="1357.11" y2="68.80" stroke="#262626" stroke-width="2.6"/>
<text transform="translate(1354.84,554.30) scale(1,1.1)" text-anchor="middle">70</text>
<line x1="1416.00" y1="526.80" x2="1416.00" y2="520.00" stroke="#262626" stroke-width="2.6"/>
<line x1="1416.00" y1="62.00" x2="1416.00" y2="68.80" stroke="#262626" stroke-width="2.6"/>
<text transform="translate(1413.95,554.30) scale(1,1.1)" text-anchor="middle">75</text>
<line x1="827.10" y1="526.80" x2="833.90" y2="526.80" stroke="#262626" stroke-width="2.6"/>
<line x1="1416.00" y1="526.80" x2="1409.20" y2="526.80" stroke="#262626" stroke-width="2.6"/>
<text transform="translate(819.50,534.90) scale(1,1.1)" text-anchor="end">&#8722;50</text>
<line x1="827.10" y1="460.40" x2="833.90" y2="460.40" stroke="#262626" stroke-width="2.6"/>
<line x1="1416.00" y1="460.40" x2="1409.20" y2="460.40" stroke="#262626" stroke-width="2.6"/>
<text transform="translate(819.50,468.79) scale(1,1.1)" text-anchor="end">&#8722;40</text>
<line x1="827.10" y1="394.00" x2="833.90" y2="394.00" stroke="#262626" stroke-width="2.6"/>
<line x1="1416.00" y1="394.00" x2="1409.20" y2="394.00" stroke="#262626" stroke-width="2.6"/>
<text transform="translate(819.50,402.67) scale(1,1.1)" text-anchor="end">&#8722;30</text>
<line x1="827.10" y1="327.60" x2="833.90" y2="327.60" stroke="#262626" stroke-width="2.6"/>
<line x1="1416.00" y1="327.60" x2="1409.20" y2="327.60" stroke="#262626" stroke-width="2.6"/>
<text transform="translate(819.50,336.56) scale(1,1.1)" text-anchor="end">&#8722;20</text>
<line x1="827.10" y1="261.20" x2="833.90" y2="261.20" stroke="#262626" stroke-width="2.6"/>
<line x1="1416.00" y1="261.20" x2="1409.20" y2="261.20" stroke="#262626" stroke-width="2.6"/>
<text transform="translate(819.50,270.44) scale(1,1.1)" text-anchor="end">&#8722;10</text>
<line x1="827.10" y1="194.80" x2="833.90" y2="194.80" stroke="#262626" stroke-width="2.6"/>
<line x1="1416.00" y1="194.80" x2="1409.20" y2="194.80" stroke="#262626" stroke-width="2.6"/>
<text transform="translate(819.50,204.33) scale(1,1.1)" text-anchor="end">0</text>
<line x1="827.10" y1="128.40" x2="833.90" y2="128.40" stroke="#262626" stroke-width="2.6"/>
<line x1="1416.00" y1="128.40" x2="1409.20" y2="128.40" stroke="#262626" stroke-width="2.6"/>
<text transform="translate(819.50,138.21) scale(1,1.1)" text-anchor="end">10</text>
<line x1="827.10" y1="62.00" x2="833.90" y2="62.00" stroke="#262626" stroke-width="2.6"/>
<line x1="1416.00" y1="62.00" x2="1409.20" y2="62.00" stroke="#262626" stroke-width="2.6"/>
<text transform="translate(819.50,72.10) scale(1,1.1)" text-anchor="end">20</text>
<rect x="827.10" y="62.00" width="588.90" height="464.80" fill="none" stroke="#262626" stroke-width="2.7"/>
<g fill="#0000f5">
<circle cx="847.7" cy="476.4" r="3.4"/>
<circle cx="857.6" cy="478.9" r="3.4"/>
<circle cx="854.7" cy="482.6" r="3.4"/>
<circle cx="834.0" cy="489.2" r="3.4"/>
<circle cx="839.4" cy="485.1" r="3.4"/>
<circle cx="844.4" cy="486.3" r="3.4"/>
<circle cx="836.9" cy="493.0" r="3.4"/>
<circle cx="841.1" cy="496.7" r="3.4"/>
<circle cx="829.9" cy="499.2" r="3.4"/>
<circle cx="834.0" cy="503.7" r="3.4"/>
<circle cx="828.2" cy="504.6" r="3.4"/>
<circle cx="827.4" cy="508.7" r="3.4"/>
<circle cx="833.2" cy="512.8" r="3.4"/>
<circle cx="829.5" cy="515.7" r="3.4"/>
<circle cx="851.4" cy="429.3" r="3.4"/>
<circle cx="853.1" cy="438.4" r="3.4"/>
<circle cx="865.1" cy="428.5" r="3.4"/>
<circle cx="870.0" cy="426.8" r="3.4"/>
<circle cx="878.3" cy="427.2" r="3.4"/>
<circle cx="884.9" cy="428.5" r="3.4"/>
<circle cx="886.6" cy="431.0" r="3.4"/>
<circle cx="894.1" cy="432.6" r="3.4"/>
<circle cx="896.5" cy="433.0" r="3.4"/>
<circle cx="864.3" cy="435.9" r="3.4"/>
<circle cx="871.7" cy="434.3" r="3.4"/>
<circle cx="876.7" cy="433.5" r="3.4"/>
<circle cx="880.0" cy="437.6" r="3.4"/>
<circle cx="870.9" cy="441.7" r="3.4"/>
<circle cx="875.8" cy="442.6" r="3.4"/>
<circle cx="884.9" cy="441.7" r="3.4"/>
<circle cx="892.4" cy="443.8" r="3.4"/>
<circle cx="873.4" cy="448.4" r="3.4"/>
<circle cx="844.4" cy="448.4" r="3.4"/>
<circle cx="849.4" cy="446.7" r="3.4"/>
<circle cx="855.1" cy="445.9" r="3.4"/>
<circle cx="860.1" cy="446.7" r="3.4"/>
<circle cx="854.3" cy="450.0" r="3.4"/>
<circle cx="861.8" cy="450.8" r="3.4"/>
<circle cx="863.4" cy="454.1" r="3.4"/>
<circle cx="868.4" cy="453.3" r="3.4"/>
<circle cx="860.9" cy="457.5" r="3.4"/>
<circle cx="873.4" cy="456.2" r="3.4"/>
<circle cx="840.7" cy="458.7" r="3.4"/>
<circle cx="839.4" cy="463.3" r="3.4"/>
<circle cx="834.0" cy="464.9" r="3.4"/>
<circle cx="848.5" cy="464.9" r="3.4"/>
<circle cx="852.7" cy="468.2" r="3.4"/>
<circle cx="860.9" cy="468.6" r="3.4"/>
<circle cx="846.9" cy="471.9" r="3.4"/>
<circle cx="851.8" cy="472.4" r="3.4"/>
<circle cx="878.7" cy="409.1" r="3.4"/>
<circle cx="880.8" cy="417.4" r="3.4"/>
<circle cx="886.6" cy="414.9" r="3.4"/>
<circle cx="891.6" cy="413.3" r="3.4"/>
<circle cx="884.9" cy="420.7" r="3.4"/>
<circle cx="889.9" cy="419.0" r="3.4"/>
<circle cx="895.7" cy="419.9" r="3.4"/>
<circle cx="874.2" cy="421.5" r="3.4"/>
<circle cx="892.0" cy="398.4" r="3.4"/>
<circle cx="899.8" cy="401.7" r="3.4"/>
<circle cx="898.2" cy="406.6" r="3.4"/>
<circle cx="903.2" cy="410.8" r="3.4"/>
<circle cx="906.5" cy="405.0" r="3.4"/>
<circle cx="909.0" cy="409.9" r="3.4"/>
<circle cx="910.6" cy="416.6" r="3.4"/>
<circle cx="901.5" cy="414.9" r="3.4"/>
<circle cx="913.9" cy="396.7" r="3.4"/>
<circle cx="917.2" cy="400.8" r="3.4"/>
<circle cx="920.5" cy="405.0" r="3.4"/>
<circle cx="923.9" cy="404.1" r="3.4"/>
<circle cx="916.4" cy="387.6" r="3.4"/>
<circle cx="922.2" cy="390.9" r="3.4"/>
<circle cx="928.0" cy="396.7" r="3.4"/>
<circle cx="926.3" cy="378.5" r="3.4"/>
<circle cx="931.3" cy="384.3" r="3.4"/>
<circle cx="936.3" cy="388.4" r="3.4"/>
<circle cx="938.8" cy="381.0" r="3.4"/>
<circle cx="944.5" cy="379.3" r="3.4"/>
<circle cx="946.2" cy="390.9" r="3.4"/>
<circle cx="916.0" cy="423.6" r="3.4"/>
<circle cx="933.8" cy="391.7" r="3.4"/>
<circle cx="958.6" cy="377.7" r="3.4"/>
<circle cx="962.3" cy="385.9" r="3.4"/>
<circle cx="931.5" cy="370.7" r="3.4"/>
<circle cx="935.6" cy="368.6" r="3.4"/>
<circle cx="943.9" cy="365.3" r="3.4"/>
<circle cx="946.4" cy="370.7" r="3.4"/>
<circle cx="951.3" cy="372.4" r="3.4"/>
<circle cx="957.1" cy="357.5" r="3.4"/>
<circle cx="954.6" cy="364.9" r="3.4"/>
<circle cx="961.3" cy="360.8" r="3.4"/>
<circle cx="959.6" cy="369.0" r="3.4"/>
<circle cx="966.2" cy="350.0" r="3.4"/>
<circle cx="967.9" cy="359.1" r="3.4"/>
<circle cx="970.4" cy="363.3" r="3.4"/>
<circle cx="967.1" cy="372.4" r="3.4"/>
<circle cx="972.8" cy="367.4" r="3.4"/>
<circle cx="977.0" cy="360.8" r="3.4"/>
<circle cx="978.6" cy="354.1" r="3.4"/>
<circle cx="982.0" cy="357.5" r="3.4"/>
<circle cx="986.1" cy="354.1" r="3.4"/>
<circle cx="989.4" cy="352.5" r="3.4"/>
<circle cx="979.5" cy="345.9" r="3.4"/>
<circle cx="984.4" cy="343.4" r="3.4"/>
<circle cx="985.3" cy="365.7" r="3.4"/>
<circle cx="990.2" cy="365.7" r="3.4"/>
<circle cx="994.4" cy="357.9" r="3.4"/>
<circle cx="999.3" cy="367.0" r="3.4"/>
<circle cx="992.7" cy="334.7" r="3.4"/>
<circle cx="997.7" cy="330.6" r="3.4"/>
<circle cx="1001.0" cy="338.8" r="3.4"/>
<circle cx="993.5" cy="343.4" r="3.4"/>
<circle cx="996.0" cy="346.7" r="3.4"/>
<circle cx="1002.6" cy="348.4" r="3.4"/>
<circle cx="1008.4" cy="339.2" r="3.4"/>
<circle cx="1009.3" cy="345.9" r="3.4"/>
<circle cx="1004.3" cy="354.1" r="3.4"/>
<circle cx="1007.6" cy="356.6" r="3.4"/>
<circle cx="1015.1" cy="347.5" r="3.4"/>
<circle cx="1017.5" cy="354.1" r="3.4"/>
<circle cx="1015.9" cy="330.1" r="3.4"/>
<circle cx="1017.5" cy="335.1" r="3.4"/>
<circle cx="1004.3" cy="326.8" r="3.4"/>
<circle cx="1008.4" cy="327.7" r="3.4"/>
<circle cx="1040.7" cy="309.1" r="3.4"/>
<circle cx="1045.7" cy="315.3" r="3.4"/>
<circle cx="1038.2" cy="321.1" r="3.4"/>
<circle cx="1030.8" cy="323.6" r="3.4"/>
<circle cx="1042.4" cy="321.5" r="3.4"/>
<circle cx="1049.0" cy="324.4" r="3.4"/>
<circle cx="1055.6" cy="323.2" r="3.4"/>
<circle cx="1061.4" cy="323.2" r="3.4"/>
<circle cx="1065.5" cy="313.3" r="3.4"/>
<circle cx="1073.0" cy="305.8" r="3.4"/>
<circle cx="1069.7" cy="313.3" r="3.4"/>
<circle cx="1068.0" cy="319.0" r="3.4"/>
<circle cx="1080.4" cy="301.7" r="3.4"/>
<circle cx="1082.9" cy="308.3" r="3.4"/>
<circle cx="1090.4" cy="301.7" r="3.4"/>
<circle cx="1077.9" cy="313.3" r="3.4"/>
<circle cx="1084.6" cy="314.1" r="3.4"/>
<circle cx="1080.4" cy="316.6" r="3.4"/>
<circle cx="1094.5" cy="309.1" r="3.4"/>
<circle cx="1088.7" cy="319.9" r="3.4"/>
<circle cx="1093.7" cy="319.0" r="3.4"/>
<circle cx="1097.8" cy="314.9" r="3.4"/>
<circle cx="1099.5" cy="322.4" r="3.4"/>
<circle cx="1103.6" cy="310.8" r="3.4"/>
<circle cx="1108.6" cy="300.8" r="3.4"/>
<circle cx="1111.9" cy="305.0" r="3.4"/>
<circle cx="1113.5" cy="300.8" r="3.4"/>
<circle cx="1121.0" cy="302.5" r="3.4"/>
<circle cx="1111.1" cy="313.3" r="3.4"/>
<circle cx="1116.9" cy="310.8" r="3.4"/>
<circle cx="1121.8" cy="310.8" r="3.4"/>
<circle cx="1126.0" cy="308.3" r="3.4"/>
<circle cx="1131.8" cy="310.8" r="3.4"/>
<circle cx="1111.1" cy="319.0" r="3.4"/>
<circle cx="1120.2" cy="322.4" r="3.4"/>
<circle cx="1135.9" cy="322.4" r="3.4"/>
<circle cx="1116.0" cy="290.9" r="3.4"/>
<circle cx="1120.2" cy="285.1" r="3.4"/>
<circle cx="1125.1" cy="289.2" r="3.4"/>
<circle cx="1130.1" cy="285.1" r="3.4"/>
<circle cx="1126.0" cy="295.0" r="3.4"/>
<circle cx="1134.2" cy="296.7" r="3.4"/>
<circle cx="1138.4" cy="290.1" r="3.4"/>
<circle cx="1139.2" cy="302.5" r="3.4"/>
<circle cx="1138.4" cy="309.9" r="3.4"/>
<circle cx="1126.8" cy="276.8" r="3.4"/>
<circle cx="1024.1" cy="333.5" r="3.4"/>
<circle cx="1024.6" cy="340.5" r="3.4"/>
<circle cx="1032.4" cy="338.0" r="3.4"/>
<circle cx="1038.2" cy="332.6" r="3.4"/>
<circle cx="1044.8" cy="329.3" r="3.4"/>
<circle cx="1046.5" cy="340.1" r="3.4"/>
<circle cx="1051.5" cy="332.6" r="3.4"/>
<circle cx="1057.3" cy="334.3" r="3.4"/>
<circle cx="1063.9" cy="330.6" r="3.4"/>
<circle cx="1072.6" cy="327.7" r="3.4"/>
<circle cx="1091.2" cy="329.3" r="3.4"/>
<circle cx="1099.5" cy="326.8" r="3.4"/>
<circle cx="1111.1" cy="328.5" r="3.4"/>
<circle cx="1104.4" cy="334.3" r="3.4"/>
<circle cx="1103.6" cy="338.4" r="3.4"/>
<circle cx="1092.0" cy="339.2" r="3.4"/>
<circle cx="1096.2" cy="341.3" r="3.4"/>
<circle cx="1099.9" cy="350.0" r="3.4"/>
<circle cx="1029.9" cy="349.6" r="3.4"/>
<circle cx="1025.8" cy="359.5" r="3.4"/>
<circle cx="1164.8" cy="245.5" r="3.4"/>
<circle cx="1140.4" cy="259.5" r="3.4"/>
<circle cx="1177.3" cy="257.5" r="3.4"/>
<circle cx="1180.6" cy="260.4" r="3.4"/>
<circle cx="1188.0" cy="262.0" r="3.4"/>
<circle cx="1193.8" cy="262.8" r="3.4"/>
<circle cx="1211.6" cy="254.1" r="3.4"/>
<circle cx="1215.3" cy="258.3" r="3.4"/>
<circle cx="1219.5" cy="263.3" r="3.4"/>
<circle cx="1210.4" cy="262.4" r="3.4"/>
<circle cx="1206.2" cy="264.9" r="3.4"/>
<circle cx="1202.9" cy="268.6" r="3.4"/>
<circle cx="1223.6" cy="270.3" r="3.4"/>
<circle cx="1227.7" cy="271.9" r="3.4"/>
<circle cx="1231.9" cy="270.3" r="3.4"/>
<circle cx="1243.9" cy="264.1" r="3.4"/>
<circle cx="1251.8" cy="258.3" r="3.4"/>
<circle cx="1255.9" cy="243.8" r="3.4"/>
<circle cx="1259.2" cy="253.3" r="3.4"/>
<circle cx="1169.0" cy="267.0" r="3.4"/>
<circle cx="1160.7" cy="271.1" r="3.4"/>
<circle cx="1155.7" cy="274.0" r="3.4"/>
<circle cx="1143.3" cy="273.2" r="3.4"/>
<circle cx="1197.9" cy="274.8" r="3.4"/>
<circle cx="1202.9" cy="274.8" r="3.4"/>
<circle cx="1250.1" cy="273.6" r="3.4"/>
<circle cx="1145.0" cy="283.5" r="3.4"/>
<circle cx="1151.6" cy="284.3" r="3.4"/>
<circle cx="1141.7" cy="285.1" r="3.4"/>
<circle cx="1148.3" cy="294.6" r="3.4"/>
<circle cx="1156.6" cy="295.9" r="3.4"/>
<circle cx="1159.9" cy="290.1" r="3.4"/>
<circle cx="1154.9" cy="290.9" r="3.4"/>
<circle cx="1164.8" cy="280.1" r="3.4"/>
<circle cx="1173.1" cy="289.2" r="3.4"/>
<circle cx="1178.9" cy="288.4" r="3.4"/>
<circle cx="1183.9" cy="290.9" r="3.4"/>
<circle cx="1184.7" cy="283.5" r="3.4"/>
<circle cx="1189.7" cy="281.8" r="3.4"/>
<circle cx="1192.2" cy="285.1" r="3.4"/>
<circle cx="1197.9" cy="278.5" r="3.4"/>
<circle cx="1200.4" cy="286.8" r="3.4"/>
<circle cx="1202.9" cy="281.8" r="3.4"/>
<circle cx="1219.5" cy="282.6" r="3.4"/>
<circle cx="1222.8" cy="284.3" r="3.4"/>
<circle cx="1218.6" cy="285.1" r="3.4"/>
<circle cx="1231.1" cy="283.5" r="3.4"/>
<circle cx="1236.9" cy="285.1" r="3.4"/>
<circle cx="1240.2" cy="286.8" r="3.4"/>
<circle cx="1245.1" cy="290.9" r="3.4"/>
<circle cx="1247.6" cy="281.0" r="3.4"/>
<circle cx="1253.4" cy="281.0" r="3.4"/>
<circle cx="1257.5" cy="279.3" r="3.4"/>
<circle cx="1215.3" cy="294.6" r="3.4"/>
<circle cx="1215.3" cy="303.3" r="3.4"/>
<circle cx="1208.7" cy="309.1" r="3.4"/>
<circle cx="1212.0" cy="316.6" r="3.4"/>
<circle cx="1201.7" cy="319.0" r="3.4"/>
<circle cx="1226.9" cy="307.9" r="3.4"/>
<circle cx="1234.8" cy="308.3" r="3.4"/>
<circle cx="1196.3" cy="297.9" r="3.4"/>
<circle cx="1197.9" cy="307.5" r="3.4"/>
<circle cx="1191.3" cy="303.3" r="3.4"/>
<circle cx="1186.4" cy="305.8" r="3.4"/>
<circle cx="1180.6" cy="309.9" r="3.4"/>
<circle cx="1188.0" cy="309.1" r="3.4"/>
<circle cx="1170.6" cy="296.7" r="3.4"/>
<circle cx="1174.8" cy="298.4" r="3.4"/>
<circle cx="1166.5" cy="305.0" r="3.4"/>
<circle cx="1171.5" cy="303.3" r="3.4"/>
<circle cx="1169.0" cy="312.0" r="3.4"/>
<circle cx="1161.5" cy="313.3" r="3.4"/>
<circle cx="1159.0" cy="315.7" r="3.4"/>
<circle cx="1151.6" cy="313.3" r="3.4"/>
<circle cx="1143.3" cy="305.0" r="3.4"/>
<circle cx="1148.3" cy="306.6" r="3.4"/>
<circle cx="1152.4" cy="305.0" r="3.4"/>
<circle cx="1141.7" cy="310.8" r="3.4"/>
<circle cx="1115.7" cy="267.5" r="3.4"/>
<circle cx="1121.3" cy="272.8" r="3.4"/>
<circle cx="1127.6" cy="275.8" r="3.4"/>
<circle cx="1133.1" cy="267.9" r="3.4"/>
<circle cx="1137.5" cy="271.5" r="3.4"/>
<circle cx="1362.3" cy="211.0" r="3.4"/>
<circle cx="1367.9" cy="212.0" r="3.4"/>
<circle cx="1373.4" cy="205.2" r="3.4"/>
<circle cx="1371.6" cy="208.9" r="3.4"/>
<circle cx="1375.9" cy="208.9" r="3.4"/>
<circle cx="1379.6" cy="212.0" r="3.4"/>
<circle cx="1384.6" cy="204.3" r="3.4"/>
<circle cx="1389.6" cy="201.4" r="3.4"/>
<circle cx="1396.7" cy="208.5" r="3.4"/>
<circle cx="1364.8" cy="218.5" r="3.4"/>
<circle cx="1356.1" cy="228.8" r="3.4"/>
<circle cx="1381.5" cy="225.0" r="3.4"/>
<circle cx="1387.1" cy="227.5" r="3.4"/>
<circle cx="1404.8" cy="218.8" r="3.4"/>
<circle cx="1400.7" cy="222.5" r="3.4"/>
<circle cx="1398.3" cy="229.4" r="3.4"/>
<circle cx="1394.5" cy="233.7" r="3.4"/>
<circle cx="1391.4" cy="240.5" r="3.4"/>
<circle cx="1343.6" cy="238.1" r="3.4"/>
<circle cx="1336.8" cy="247.7" r="3.4"/>
<circle cx="1352.3" cy="245.5" r="3.4"/>
<circle cx="1359.2" cy="245.5" r="3.4"/>
<circle cx="1407.0" cy="247.4" r="3.4"/>
<circle cx="1413.8" cy="246.1" r="3.4"/>
<circle cx="1312.6" cy="254.1" r="3.4"/>
<circle cx="1323.2" cy="252.2" r="3.4"/>
<circle cx="1349.9" cy="252.2" r="3.4"/>
<circle cx="1410.7" cy="254.7" r="3.4"/>
<circle cx="1402.6" cy="259.7" r="3.4"/>
<circle cx="1415.0" cy="262.2" r="3.4"/>
<circle cx="1408.8" cy="278.3" r="3.4"/>
<circle cx="1413.2" cy="278.3" r="3.4"/>
<circle cx="1251.8" cy="258.4" r="3.4"/>
<circle cx="1244.3" cy="264.0" r="3.4"/>
<circle cx="1266.1" cy="260.9" r="3.4"/>
<circle cx="1267.9" cy="260.3" r="3.4"/>
<circle cx="1264.2" cy="267.1" r="3.4"/>
<circle cx="1279.1" cy="257.2" r="3.4"/>
<circle cx="1249.9" cy="274.0" r="3.4"/>
<circle cx="1247.4" cy="280.8" r="3.4"/>
<circle cx="1253.7" cy="280.8" r="3.4"/>
<circle cx="1258.6" cy="278.9" r="3.4"/>
<circle cx="1262.3" cy="279.6" r="3.4"/>
<circle cx="1241.2" cy="285.8" r="3.4"/>
<circle cx="1245.0" cy="290.7" r="3.4"/>
<circle cx="1268.6" cy="289.5" r="3.4"/>
<circle cx="1272.3" cy="284.5" r="3.4"/>
<circle cx="1276.0" cy="282.7" r="3.4"/>
<circle cx="1281.0" cy="287.0" r="3.4"/>
<circle cx="1283.4" cy="275.2" r="3.4"/>
<circle cx="1287.2" cy="288.2" r="3.4"/>
<circle cx="1290.9" cy="289.5" r="3.4"/>
<circle cx="1287.2" cy="295.7" r="3.4"/>
<circle cx="1294.0" cy="299.4" r="3.4"/>
<circle cx="1294.6" cy="277.7" r="3.4"/>
<circle cx="1298.3" cy="285.8" r="3.4"/>
<circle cx="1298.3" cy="289.5" r="3.4"/>
<circle cx="1302.1" cy="279.6" r="3.4"/>
<circle cx="1300.8" cy="305.6" r="3.4"/>
<circle cx="1305.2" cy="305.6" r="3.4"/>
<circle cx="1312.0" cy="303.8" r="3.4"/>
<circle cx="1308.3" cy="295.7" r="3.4"/>
<circle cx="1309.5" cy="285.1" r="3.4"/>
<circle cx="1305.8" cy="270.9" r="3.4"/>
<circle cx="1316.3" cy="272.7" r="3.4"/>
<circle cx="1320.1" cy="277.1" r="3.4"/>
<circle cx="1315.7" cy="290.7" r="3.4"/>
<circle cx="1319.4" cy="290.1" r="3.4"/>
<circle cx="1325.7" cy="292.6" r="3.4"/>
<circle cx="1321.9" cy="265.9" r="3.4"/>
<circle cx="1326.9" cy="267.1" r="3.4"/>
<circle cx="1330.6" cy="269.6" r="3.4"/>
<circle cx="1334.3" cy="266.5" r="3.4"/>
<circle cx="1340.5" cy="266.5" r="3.4"/>
<circle cx="1346.8" cy="270.9" r="3.4"/>
<circle cx="1015.1" cy="320.7" r="3.4"/>
<circle cx="1010.1" cy="322.8" r="3.4"/>
<circle cx="866.7" cy="431.0" r="3.4"/>
<circle cx="874.2" cy="429.7" r="3.4"/>
<circle cx="880.8" cy="431.8" r="3.4"/>
<circle cx="876.7" cy="439.2" r="3.4"/>
<circle cx="865.9" cy="441.7" r="3.4"/>
<circle cx="858.5" cy="442.6" r="3.4"/>
<circle cx="868.4" cy="446.7" r="3.4"/>
<circle cx="864.3" cy="449.6" r="3.4"/>
<circle cx="879.2" cy="445.0" r="3.4"/>
<circle cx="848.5" cy="451.7" r="3.4"/>
<circle cx="857.6" cy="452.5" r="3.4"/>
<circle cx="851.0" cy="442.6" r="3.4"/>
<circle cx="930.5" cy="379.7" r="3.4"/>
<circle cx="935.4" cy="383.9" r="3.4"/>
<circle cx="942.1" cy="385.9" r="3.4"/>
<circle cx="920.5" cy="395.0" r="3.4"/>
<circle cx="895.7" cy="410.8" r="3.4"/>
<circle cx="905.6" cy="400.0" r="3.4"/>
<circle cx="899.8" cy="419.9" r="3.4"/>
<circle cx="906.5" cy="415.7" r="3.4"/>
<circle cx="884.9" cy="415.7" r="3.4"/>
<circle cx="880.8" cy="412.4" r="3.4"/>
<circle cx="999.3" cy="350.8" r="3.4"/>
<circle cx="1011.8" cy="350.8" r="3.4"/>
<circle cx="1006.0" cy="343.4" r="3.4"/>
<circle cx="1017.5" cy="342.6" r="3.4"/>
<circle cx="962.9" cy="365.7" r="3.4"/>
<circle cx="952.2" cy="369.0" r="3.4"/>
<circle cx="948.8" cy="364.9" r="3.4"/>
<circle cx="972.8" cy="360.8" r="3.4"/>
<circle cx="982.8" cy="350.8" r="3.4"/>
<circle cx="987.7" cy="360.8" r="3.4"/>
<circle cx="1073.8" cy="310.8" r="3.4"/>
<circle cx="1087.9" cy="307.5" r="3.4"/>
<circle cx="1087.9" cy="313.3" r="3.4"/>
<circle cx="1074.6" cy="319.0" r="3.4"/>
<circle cx="1082.9" cy="320.7" r="3.4"/>
<circle cx="1102.0" cy="319.0" r="3.4"/>
<circle cx="1092.0" cy="323.2" r="3.4"/>
<circle cx="1116.0" cy="315.7" r="3.4"/>
<circle cx="1119.3" cy="291.7" r="3.4"/>
<circle cx="1129.3" cy="291.7" r="3.4"/>
<circle cx="1053.1" cy="324.0" r="3.4"/>
<circle cx="1021.7" cy="328.8" r="3.4"/>
<circle cx="1028.7" cy="331.8" r="3.4"/>
<circle cx="1035.6" cy="328.8" r="3.4"/>
<circle cx="1045.5" cy="332.8" r="3.4"/>
<circle cx="1049.5" cy="327.8" r="3.4"/>
<circle cx="1059.4" cy="328.8" r="3.4"/>
<circle cx="1065.3" cy="325.9" r="3.4"/>
<circle cx="1009.8" cy="349.6" r="3.4"/>
<circle cx="937.0" cy="385.6" r="3.4"/>
<circle cx="934.7" cy="380.9" r="3.4"/>
<circle cx="953.2" cy="374.0" r="3.4"/>
<circle cx="962.5" cy="368.2" r="3.4"/>
<circle cx="974.1" cy="362.4" r="3.4"/>
</g>
<line x1="827.10" y1="101.04" x2="1416.00" y2="101.04" stroke="#000" stroke-width="6"/>
<rect x="871.1" y="118.6" width="175.3" height="84.2" fill="#fff" stroke="#262626" stroke-width="2.4"/>
<circle cx="897.20" cy="140.80" r="8.5" fill="#0000f5"/>
<line x1="886.00" y1="182.00" x2="910.00" y2="182.00" stroke="#231815" stroke-width="6.4"/>
<text transform="translate(923.10,148.40)" style="font-size:24.5px">MEO/IGSO</text>
<text transform="translate(923.10,188.60)" style="font-size:24.5px">Reference</text>
<text transform="translate(1093.30,33.50) scale(1,1.05)" text-anchor="middle">(b) DER</text>
<text transform="translate(1116.40,581.20) scale(1,1.03)" text-anchor="middle" style="font-size:24.4px">Elevation angle [°]</text>
<text transform="translate(752.20,331.60) rotate(-90)" font-style="italic">h</text>
<text transform="translate(758.30,314.00) rotate(-90)" font-style="italic">r</text>
<text transform="translate(746.10,293.00) rotate(-90)">[m]</text>
</svg></body></html>
